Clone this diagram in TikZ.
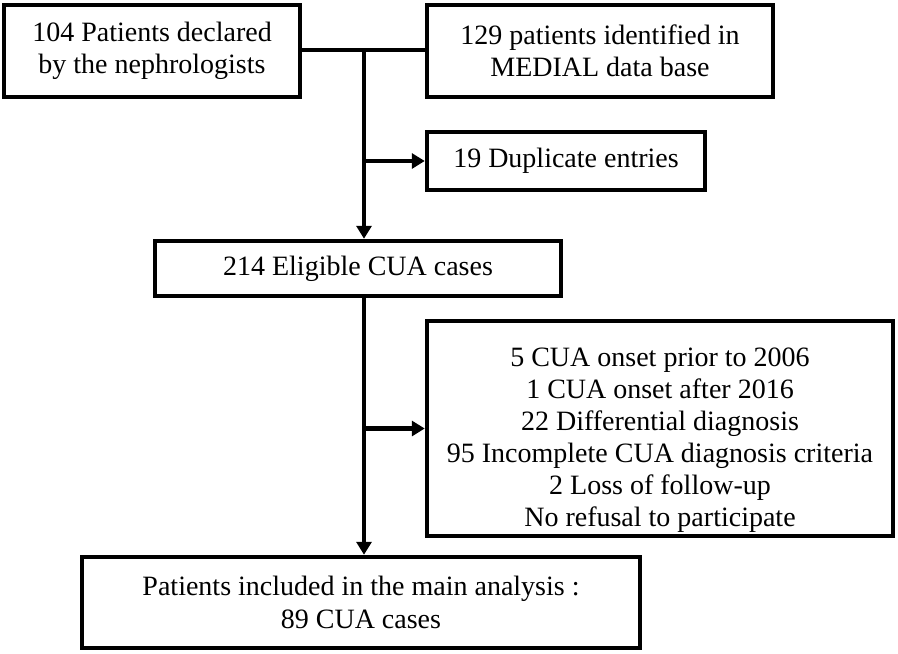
\documentclass[tikz,border=0pt]{standalone}
\usepackage{fontspec}
\setmainfont{Liberation Serif}
\usetikzlibrary{arrows.meta,calc}
\begin{document}
\begin{tikzpicture}[x=1pt,y=-1pt,
  box/.style={draw=black,line width=4.5pt,rectangle,inner sep=0pt,align=center,
    font=\fontsize{28}{32.5}\selectfont},
  txt/.style={inner sep=0pt,align=center,font=\fontsize{28}{32}\selectfont},
  conn/.style={line width=4.5pt},
  arr/.style={line width=4.5pt,-{Triangle[length=13pt,width=15pt]}}]
\useasboundingbox (0,0) rectangle (898,654);
\node[box,minimum width=296pt,minimum height=92pt] (A) at (152,51) {104 Patients declared\\by the nephrologists};
\node[box,minimum width=346pt,minimum height=92pt] (B) at (600,51) {129 patients identified in\\MEDIAL data base};
\node[box,minimum width=278pt,minimum height=58pt] (D) at (566,161) {19 Duplicate entries};
\node[box,minimum width=406pt,minimum height=55pt] (C) at (358,268.5) {214 Eligible CUA cases};
\node[box,minimum width=466pt,minimum height=215pt] (E) at (660,428.5) {};
\node[txt] (Et) at (660,440) {5 CUA onset prior to 2006\\1 CUA onset after 2016\\22 Differential diagnosis\\95 Incomplete CUA diagnosis criteria\\2 Loss of follow-up\\No refusal to participate};
\node[box,minimum width=558pt,minimum height=91pt] (F) at (361,602.5) {Patients included in the main analysis :\\89 CUA cases};
\coordinate (j) at (364,50);
\coordinate (k) at (364,161);
\coordinate (m) at (364,428.5);
\draw[conn] (A.east |- j) -- (B.west |- j);
\draw[arr] (j) -- (j |- C.north);
\draw[arr] (k) -- (D.west);
\draw[arr] (j |- C.south) -- (j |- F.north);
\draw[arr] (m) -- (E.west);
\end{tikzpicture}
\end{document}
